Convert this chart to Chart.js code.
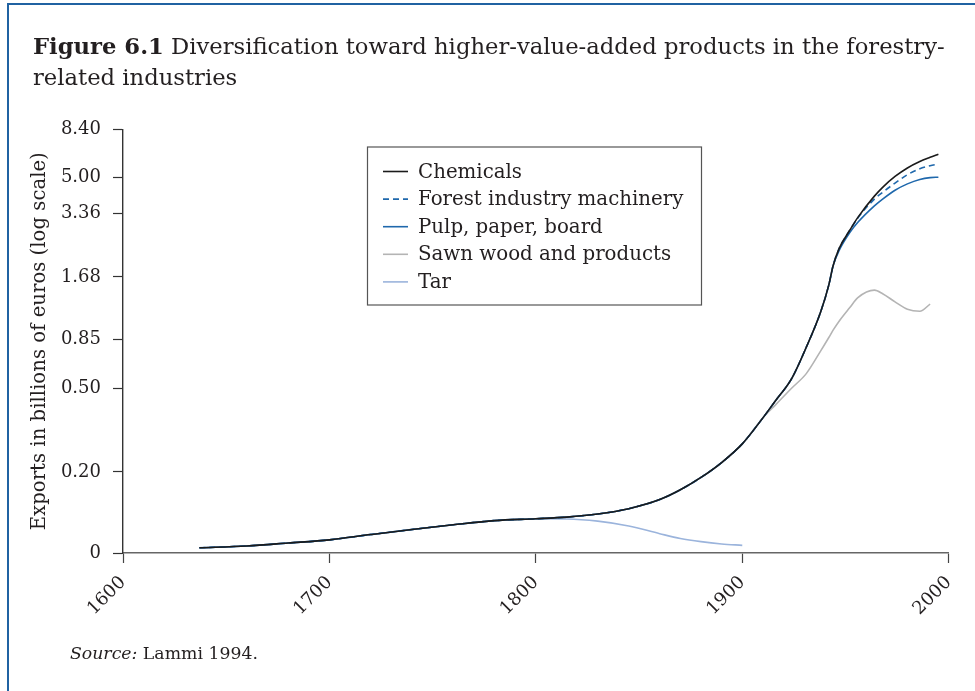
<!DOCTYPE html>
<html>
<head>
<meta charset="utf-8">
<script src="https://cdn.jsdelivr.net/npm/chart.js@4.4.1/dist/chart.umd.min.js"></script>
<style>
  html, body { margin: 0; padding: 0; background: #fff; }
  body { width: 975px; height: 691px; position: relative; overflow: hidden;
         font-family: 'DejaVu Serif', serif; color: #231f20; }
  #frame { position: absolute; left: 7px; top: 3px; width: 1000px; height: 800px;
           border-left: 2.5px solid #2062a2; border-top: 2.5px solid #2062a2; }
  #title { position: absolute; left: 33px; top: 30.5px; font-size: 22.7px; line-height: 31.5px; white-space: nowrap; }
  #source { position: absolute; left: 70px; top: 642px; font-size: 17.3px; line-height: 22px; }
  canvas { position: absolute; left: 0; top: 0; }
</style>
</head>
<body>
<div id="frame"></div>
<canvas id="lineChart" width="975" height="691"></canvas>
<div id="title"><b>Figure 6.1</b> Diversification toward higher-value-added products in the forestry-<br>related industries</div>
<div id="source"><i>Source:</i> Lammi 1994.</div>
<script>
// years shared by all series (values are exports, billions of euros)
const years = [1637, 1660, 1680, 1700, 1720, 1740, 1760, 1780, 1800, 1815, 1830, 1845, 1860, 1870, 1880, 1890, 1900,
               1910, 1916, 1924, 1931, 1938, 1942, 1944, 1947, 1952, 1956, 1964, 1968, 1974, 1980, 1986, 1991, 1995];

const chemicals = [0.0875, 0.0892, 0.0921, 0.0953, 0.101, 0.1068, 0.1124, 0.1176, 0.120, 0.1222, 0.1264, 0.134, 0.148, 0.1646, 0.1884, 0.2217, 0.2717,
                   0.361, 0.434, 0.556, 0.78, 1.15, 1.55, 1.90, 2.30, 2.79, 3.22, 4.06, 4.47, 5.03, 5.52, 5.92, 6.20, 6.42];
const machinery = [0.0875, 0.0892, 0.0921, 0.0953, 0.101, 0.1068, 0.1124, 0.1176, 0.120, 0.1222, 0.1264, 0.134, 0.148, 0.1646, 0.1884, 0.2217, 0.2717,
                   0.361, 0.434, 0.556, 0.78, 1.15, 1.55, 1.90, 2.30, 2.79, 3.20, 3.93, 4.23, 4.68, 5.13, 5.47, 5.66, 5.77];
const pulp      = [0.0875, 0.0892, 0.0921, 0.0953, 0.101, 0.1068, 0.1124, 0.1176, 0.120, 0.1222, 0.1264, 0.134, 0.148, 0.1646, 0.1884, 0.2217, 0.2717,
                   0.361, 0.434, 0.556, 0.78, 1.15, 1.55, 1.90, 2.25, 2.72, 3.05, 3.65, 3.93, 4.33, 4.64, 4.87, 4.97, 4.99];
const sawnWood  = [0.0875, 0.0892, 0.0921, 0.0953, 0.101, 0.1068, 0.1124, 0.1176, 0.120, 0.1222, 0.1264, 0.134, 0.148, 0.1646, 0.1884, 0.2217, 0.2717,
                   0.361, 0.415, 0.50, 0.585, 0.75, 0.87, 0.94, 1.04, 1.20, 1.34, 1.455, 1.40, 1.28, 1.18, 1.155, 1.25, null];
const tar       = [0.0875, 0.0892, 0.0921, 0.0953, 0.101, 0.1068, 0.1124, 0.1176, 0.120, 0.1198, 0.117, 0.111, 0.102, 0.0968, 0.0935, 0.0912, 0.0898,
                   null, null, null, null, null, null, null, null, null, null, null, null, null, null, null, null, null];

const seriesNames = ['Chemicals', 'Forest industry machinery', 'Pulp, paper, board', 'Sawn wood and products', 'Tar'];

const yTickValues = [0.0826, 0.20, 0.50, 0.85, 1.68, 3.36, 5.00, 8.40];
const yTickLabels = ['0', '0.20', '0.50', '0.85', '1.68', '3.36', '5.00', '8.40'];
const xTicks = [1600, 1700, 1800, 1900, 2000];

const serif = "'DejaVu Serif', serif";
const ink = '#231f20';

function toPoints(values) {
    return years.map((yr, i) => ({ x: yr, y: values[i] })).filter(p => p.y !== null);
}

// legend drawn inside the plot with a border
const boxLegend = {
    id: 'boxLegend',
    afterDraw(chart) {
        const ctx = chart.ctx;
        const left = 367.5, top = 147, w = 334, h = 158;
        ctx.save();
        ctx.strokeStyle = '#555';
        ctx.lineWidth = 1.2;
        ctx.fillStyle = '#fff';
        ctx.fillRect(left, top, w, h);
        ctx.strokeRect(left, top, w, h);
        ctx.font = '19.8px ' + serif;
        ctx.textBaseline = 'middle';
        chart.data.datasets.forEach((ds, i) => {
            const y = 171.5 + i * 27.6;
            ctx.strokeStyle = ds.borderColor;
            ctx.lineWidth = ds.borderWidth;
            ctx.setLineDash(ds.borderDash || []);
            ctx.beginPath();
            ctx.moveTo(383, y);
            ctx.lineTo(408, y);
            ctx.stroke();
            ctx.setLineDash([]);
            ctx.fillStyle = ink;
            ctx.fillText(ds.label, 418, y + 1);
        });
        ctx.restore();
    }
};

const ctx = document.getElementById('lineChart').getContext('2d');

new Chart(ctx, {
    type: 'line',
    data: {
        datasets: [
            { label: seriesNames[0], data: toPoints(chemicals), borderColor: '#1b1b1b', borderWidth: 1.6 },
            { label: seriesNames[1], data: toPoints(machinery), borderColor: '#1f68ac', borderWidth: 1.6, borderDash: [6, 4] },
            { label: seriesNames[2], data: toPoints(pulp), borderColor: '#1f68ac', borderWidth: 1.6 },
            { label: seriesNames[3], data: toPoints(sawnWood), borderColor: '#b4b4b4', borderWidth: 1.6 },
            { label: seriesNames[4], data: toPoints(tar), borderColor: '#9bb4dc', borderWidth: 1.6 }
        ]
    },
    options: {
        responsive: false,
        animation: false,
        devicePixelRatio: 1,
        layout: { padding: { left: 0, top: 129.5, right: 26.3, bottom: 58 } },
        elements: {
            point: { radius: 0 },
            line: { cubicInterpolationMode: 'monotone', fill: false }
        },
        plugins: {
            legend: { display: false },
            tooltip: { enabled: false }
        },
        scales: {
            x: {
                type: 'linear',
                min: 1600,
                max: 2000,
                afterBuildTicks: scale => { scale.ticks = xTicks.map(v => ({ value: v })); },
                afterFit: scale => { scale.height = 80; },
                grid: { drawOnChartArea: false, tickLength: 10, color: '#444', tickWidth: 1.2 },
                border: { color: '#666', width: 1.6 },
                ticks: {
                    minRotation: 45, maxRotation: 45, autoSkip: false, padding: 9,
                    color: ink, font: { family: serif, size: 18 },
                    callback: v => String(v)
                }
            },
            y: {
                type: 'logarithmic',
                min: yTickValues[0],
                max: 8.40,
                afterBuildTicks: scale => { scale.ticks = yTickValues.map(v => ({ value: v })); },
                afterFit: scale => { scale.width = 123; },
                grid: { drawOnChartArea: false, tickLength: 10, color: '#333', tickWidth: 1.2 },
                border: { color: '#333', width: 1.4 },
                ticks: {
                    padding: 12, color: ink, font: { family: serif, size: 18 },
                    callback: (v, i) => yTickLabels[i]
                },
                title: {
                    display: true,
                    text: 'Exports in billions of euros (log scale)',
                    color: ink,
                    font: { family: serif, size: 19.7 },
                    padding: { top: 28, bottom: 0 }
                }
            }
        }
    },
    plugins: [boxLegend]
});
</script>
</body>
</html>
